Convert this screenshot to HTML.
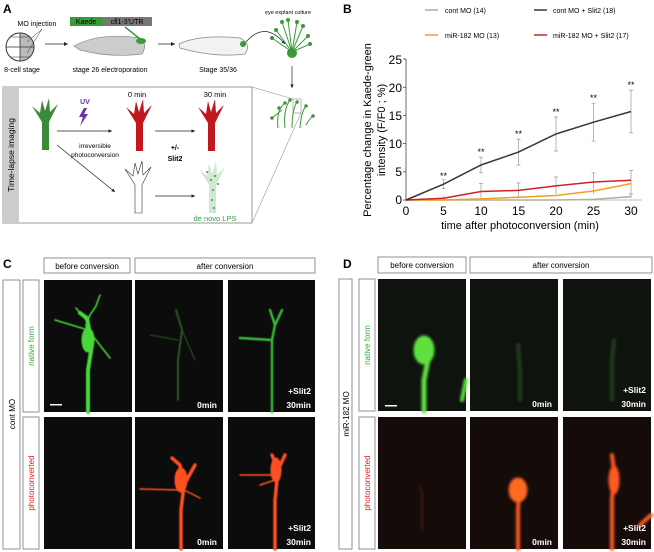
<!DOCTYPE html>
<html><head><meta charset="utf-8"><style>
body{margin:0;background:#fff;width:654px;height:552px;overflow:hidden}
svg{display:block;font-family:"Liberation Sans",Arial,sans-serif}
</style></head><body>
<svg width="654" height="552" viewBox="0 0 654 552" xmlns="http://www.w3.org/2000/svg">
<defs>
<filter id="b1"><feGaussianBlur stdDeviation="1.2"/></filter>
<filter id="b2"><feGaussianBlur stdDeviation="0.6"/></filter>
<marker id="ar" markerWidth="6" markerHeight="6" refX="5" refY="3" orient="auto"><path d="M0,0.5 L5,3 L0,5.5 Z" fill="#222"/></marker>
<path id="cone" d="M-3,50 L-3,22 L-13,6 L-5,13 L-3,0 L0,11 L4,-2 L5,12 L13,4 L4,22 L4,50 Z"/>
</defs>

<!-- Panel A -->
<text x="3" y="13" font-size="12" font-weight="bold">A</text>
<text x="37" y="26" font-size="7" text-anchor="middle">MO injection</text>
<circle cx="20" cy="47" r="14" fill="#fff" stroke="#333" stroke-width="1"/>
<path d="M20,33 A14,14 0 0 1 20,61 Z" fill="#bbb" stroke="#333" stroke-width="0.8"/>
<line x1="6" y1="47" x2="34" y2="47" stroke="#333" stroke-width="0.8"/>
<line x1="10" y1="37" x2="30" y2="37" stroke="#333" stroke-width="0.6"/>
<line x1="10" y1="57" x2="30" y2="57" stroke="#333" stroke-width="0.6"/>
<line x1="42" y1="29" x2="27" y2="42" stroke="#333" stroke-width="0.5"/>
<line x1="42" y1="29" x2="27" y2="53" stroke="#333" stroke-width="0.5"/>
<text x="22" y="72" font-size="7" text-anchor="middle">8-cell stage</text>
<line x1="45" y1="44" x2="68" y2="44" stroke="#222" stroke-width="0.8" marker-end="url(#ar)"/>
<rect x="70" y="17" width="33" height="9" fill="#3a9a3a"/>
<rect x="103" y="17" width="49" height="9" fill="#777"/>
<text x="86" y="24" font-size="7" text-anchor="middle">Kaede</text>
<text x="127" y="24" font-size="7" text-anchor="middle">cfl1-3'UTR</text>
<path d="M74,46 Q100,32 140,38 Q148,44 142,54 Q110,58 80,50 Z" fill="#ccc" stroke="#888" stroke-width="0.7"/>
<line x1="125" y1="27" x2="140" y2="39" stroke="#3a9a3a" stroke-width="1.5"/>
<ellipse cx="141" cy="41" rx="5" ry="3" fill="#3a9a3a"/>
<text x="110" y="72" font-size="7" text-anchor="middle">stage 26 electroporation</text>
<line x1="158" y1="44" x2="175" y2="44" stroke="#222" stroke-width="0.8" marker-end="url(#ar)"/>
<path d="M179,44 Q200,34 240,38 Q252,44 245,54 Q215,58 180,48 Z" fill="#f2f2f2" stroke="#888" stroke-width="0.7"/>
<circle cx="243" cy="44" r="3" fill="#3a9a3a"/>
<path d="M246,42 Q265,20 285,44" fill="none" stroke="#222" stroke-width="0.7" marker-end="url(#ar)"/>
<text x="218" y="72" font-size="7" text-anchor="middle">Stage 35/36</text>
<text x="288" y="14" font-size="5.5" text-anchor="middle">eye explant culture</text>
<g stroke="#3a9a3a" stroke-width="1" fill="none">
<path d="M292,52 L282,22 M292,52 L288,20 M292,52 L297,22 M292,52 L303,26 M292,52 L308,36 M292,52 L276,30 M292,52 L272,38 M292,52 L310,44"/>
</g>
<g fill="#3a9a3a"><circle cx="292" cy="53" r="5"/><circle cx="282" cy="22" r="2"/><circle cx="288" cy="20" r="2"/><circle cx="297" cy="22" r="2"/><circle cx="303" cy="26" r="2"/><circle cx="308" cy="36" r="2"/><circle cx="276" cy="30" r="2"/><circle cx="272" cy="38" r="2"/><circle cx="310" cy="44" r="2"/></g>
<line x1="292" y1="66" x2="292" y2="88" stroke="#222" stroke-width="0.7" marker-end="url(#ar)"/>
<g stroke="#3a9a3a" stroke-width="1" fill="none">
<path d="M278,128 Q276,110 285,103 M285,128 Q283,110 290,100 M292,128 Q292,110 297,102 M300,128 Q301,112 306,106 M306,125 Q310,118 313,116 M272,118 L282,110"/>
</g>
<g fill="#3a9a3a"><circle cx="285" cy="103" r="1.8"/><circle cx="290" cy="100" r="1.8"/><circle cx="297" cy="102" r="1.8"/><circle cx="306" cy="106" r="1.8"/><circle cx="313" cy="116" r="1.8"/><circle cx="272" cy="118" r="1.8"/><circle cx="279" cy="108" r="1.8"/></g>
<rect x="293" y="99" width="8" height="14" fill="none" stroke="#888" stroke-width="0.6"/>
<line x1="252" y1="87" x2="293" y2="99" stroke="#999" stroke-width="0.6"/>
<line x1="252" y1="223" x2="301" y2="113" stroke="#999" stroke-width="0.6"/>
<rect x="3" y="87" width="249" height="136" fill="#fff" stroke="#999" stroke-width="1"/>
<rect x="3" y="87" width="16" height="136" fill="#ccc"/>
<text transform="translate(14,155) rotate(-90)" font-size="8.5" text-anchor="middle">Time-lapse imaging</text>
<use href="#cone" transform="translate(45,100)" fill="#3a8a3a"/>
<text x="85" y="104" font-size="7" font-weight="bold" fill="#6a2fa0" text-anchor="middle">UV</text>
<path d="M84,108 L79,117 L83,117 L80,126 L88,114 L84,114 L87,108 Z" fill="#6a2fa0"/>
<line x1="57" y1="131" x2="112" y2="131" stroke="#222" stroke-width="0.7" marker-end="url(#ar)"/>
<text x="95" y="148" font-size="6.5" text-anchor="middle">irreversible</text>
<text x="95" y="157" font-size="6.5" text-anchor="middle">photoconversion</text>
<line x1="57" y1="145" x2="115" y2="192" stroke="#222" stroke-width="0.7" marker-end="url(#ar)"/>
<text x="137" y="97" font-size="7.5" text-anchor="middle">0 min</text>
<use href="#cone" transform="translate(139,101)" fill="#c0181e"/>
<line x1="155" y1="131" x2="195" y2="131" stroke="#222" stroke-width="0.7" marker-end="url(#ar)"/>
<text x="175" y="150" font-size="7" font-weight="bold" text-anchor="middle">+/-</text>
<text x="175" y="161" font-size="7" font-weight="bold" text-anchor="middle">Slit2</text>
<text x="215" y="97" font-size="7.5" text-anchor="middle">30 min</text>
<use href="#cone" transform="translate(211,101)" fill="#c0181e"/>
<use href="#cone" transform="translate(138,163)" fill="#fff" stroke="#333" stroke-width="0.6"/>
<line x1="155" y1="196" x2="195" y2="196" stroke="#222" stroke-width="0.7" marker-end="url(#ar)"/>
<use href="#cone" transform="translate(212,163)" fill="#cfe8cf"/>
<g fill="#3a9a3a"><circle cx="211" cy="180" r="1"/><circle cx="215" cy="176" r="1"/><circle cx="213" cy="190" r="1"/><circle cx="212" cy="200" r="1"/><circle cx="214" cy="208" r="1"/><circle cx="207" cy="172" r="1"/><circle cx="218" cy="184" r="1"/></g>
<text x="215" y="221" font-size="7.5" fill="#3a9a3a" text-anchor="middle">de novo LPS</text>

<!-- Panel B -->
<text x="343" y="13" font-size="12" font-weight="bold">B</text>
<line x1="425" y1="10" x2="438" y2="10" stroke="#b5ae98" stroke-width="1.5"/>
<text x="445" y="13" font-size="7">cont MO (14)</text>
<line x1="534" y1="10" x2="547" y2="10" stroke="#3a3530" stroke-width="1.5"/>
<text x="553" y="13" font-size="7">cont MO + Slit2 (18)</text>
<line x1="425" y1="35" x2="438" y2="35" stroke="#f0a020" stroke-width="1.5"/>
<text x="445" y="38" font-size="7">miR-182 MO (13)</text>
<line x1="534" y1="35" x2="547" y2="35" stroke="#d0202a" stroke-width="1.5"/>
<text x="553" y="38" font-size="7">miR-182 MO + Slit2 (17)</text>
<g stroke="#444" stroke-width="0.8">
<line x1="406" y1="59" x2="406" y2="200"/>
<line x1="406" y1="200" x2="642" y2="200" stroke="#aaa"/>
<line x1="403" y1="59" x2="406" y2="59"/><line x1="403" y1="87.2" x2="406" y2="87.2"/><line x1="403" y1="115.4" x2="406" y2="115.4"/><line x1="403" y1="143.6" x2="406" y2="143.6"/><line x1="403" y1="171.8" x2="406" y2="171.8"/><line x1="403" y1="200" x2="406" y2="200"/>
</g>
<g font-size="12" text-anchor="end">
<text x="402" y="64">25</text><text x="402" y="92">20</text><text x="402" y="120">15</text><text x="402" y="148">10</text><text x="402" y="176">5</text><text x="402" y="204">0</text>
</g>
<g font-size="12" text-anchor="middle">
<text x="406" y="215">0</text><text x="443.5" y="215">5</text><text x="481" y="215">10</text><text x="518.5" y="215">15</text><text x="556" y="215">20</text><text x="593.5" y="215">25</text><text x="631" y="215">30</text>
</g>
<text x="520" y="229" font-size="11" text-anchor="middle">time after photoconversion (min)</text>
<text transform="translate(371,130) rotate(-90)" font-size="11" text-anchor="middle">Percentage change in Kaede-green</text>
<text transform="translate(385,130) rotate(-90)" font-size="11" text-anchor="middle">intensity  (F/F0 ; %)</text>
<g stroke="#999" stroke-width="0.7">
<path d="M443.5,179.7V188.7M441.5,179.7h4M441.5,188.7h4"/>
<path d="M481,157.1V172.9M479,157.1h4M479,172.9h4"/>
<path d="M518.5,139.1V165.1M516.5,139.1h4M516.5,165.1h4"/>
<path d="M556,117V151M554,117h4M554,151h4"/>
<path d="M593.5,103.2V141.2M591.5,103.2h4M591.5,141.2h4"/>
<path d="M631,90.1V132.9M629,90.1h4M629,132.9h4"/>
<path d="M443.5,196V200M481,183.5V199M518.5,183V198M556,177V194M593.5,173V194M631,170.5V198"/>
<path d="M479,183.5h4M516.5,183h4M554,177h4M591.5,173h4M629,170.5h4M629,194h4"/>
</g>
<polyline points="406,200 443.5,200 481,200 518.5,200 556,200 593.5,199.4 631,196.6" fill="none" stroke="#b5ae98" stroke-width="1.5"/>
<polyline points="406,200 443.5,200 481,198.9 518.5,197.2 556,195.5 593.5,191 631,183.6" fill="none" stroke="#f0a020" stroke-width="1.5"/>
<polyline points="406,200 443.5,198.3 481,191.5 518.5,190.4 556,185.9 593.5,182 631,180.3" fill="none" stroke="#d0202a" stroke-width="1.5"/>
<polyline points="406,200 443.5,184.2 481,165 518.5,152.1 556,134 593.5,122.2 631,111.5" fill="none" stroke="#3a3530" stroke-width="1.5"/>
<g font-size="9" text-anchor="middle">
<text x="443.5" y="179">**</text><text x="481" y="155">**</text><text x="518.5" y="137">**</text><text x="556" y="115">**</text><text x="593.5" y="101">**</text><text x="631" y="88">**</text>
</g>

<!-- Panel C -->
<text x="3" y="268" font-size="12" font-weight="bold">C</text>
<g fill="#fff" stroke="#777" stroke-width="0.8">
<rect x="44" y="258" width="86" height="15"/><rect x="135" y="258" width="180" height="15"/>
<rect x="3" y="280" width="17" height="269"/>
<rect x="23" y="280" width="16" height="132"/><rect x="23" y="417" width="16" height="132"/>
</g>
<g font-size="8" text-anchor="middle">
<text x="87" y="269">before conversion</text><text x="225" y="269">after conversion</text>
<text transform="translate(15,414) rotate(-90)">cont MO</text>
</g>
<text transform="translate(34,346) rotate(-90)" font-size="8" fill="#3aaa3a" text-anchor="middle">native form</text>
<text transform="translate(34,483) rotate(-90)" font-size="8" fill="#d02020" text-anchor="middle">photoconverted</text>
<g fill="#0b0c0b">
<rect x="44" y="280" width="88" height="132"/><rect x="135" y="280" width="88" height="132"/><rect x="228" y="280" width="87" height="132"/>
<rect x="44" y="417" width="88" height="132"/><rect x="135" y="417" width="88" height="132"/><rect x="228" y="417" width="87" height="132"/>
</g>
<g fill="none" stroke-linecap="round" filter="url(#b2)">
<g stroke="#4ad83a"><path d="M88,412 L88,370 L92,345 L87,318 L80,313" stroke-width="4"/><path d="M88,345 L86,325 L90,315 L96,306 L100,295 M86,320 L76,308 M88,330 L55,320 M92,335 L110,358" stroke-width="1.5"/><ellipse cx="88" cy="340" rx="6" ry="12" fill="#4ad83a"/></g>
<g stroke="#2a5a22" stroke-width="2"><path d="M178,400 L178,360 L182,330 L176,310"/><path d="M178,340 L150,335 M182,330 L195,360" stroke-width="1"/></g>
<g stroke="#3ab83a" stroke-width="2.5"><path d="M272,412 L272,340 L275,325 L270,310 M275,325 L282,310 M272,340 L240,338"/></g>
<g stroke="#ff5020"><path d="M181,549 L181,510 L184,485 L180,465 L172,458 M184,485 L195,465" stroke-width="3.5"/><path d="M180,490 L140,489 M184,490 L200,498" stroke-width="1.5"/><ellipse cx="181" cy="480" rx="6" ry="12" fill="#ff5020"/></g>
<g stroke="#ff5020"><path d="M275,549 L275,500 L278,470 L272,455 M278,470 L285,455" stroke-width="3.5"/><path d="M275,475 L240,475 M275,480 L260,485" stroke-width="1.5"/><ellipse cx="276" cy="470" rx="5" ry="12" fill="#ff5020"/></g>
</g>
<rect x="50" y="404" width="12" height="1.5" fill="#fff"/>
<g fill="#fff" font-size="8.5" font-weight="bold" text-anchor="end">
<text x="217" y="408">0min</text><text x="311" y="394">+Slit2</text><text x="311" y="408">30min</text>
<text x="217" y="545">0min</text><text x="311" y="531">+Slit2</text><text x="311" y="545">30min</text>
</g>

<!-- Panel D -->
<text x="343" y="268" font-size="12" font-weight="bold">D</text>
<g fill="#fff" stroke="#777" stroke-width="0.8">
<rect x="378" y="257" width="88" height="16"/><rect x="470" y="257" width="182" height="16"/>
<rect x="339" y="279" width="13" height="270"/>
<rect x="359" y="279" width="16" height="132"/><rect x="359" y="417" width="16" height="132"/>
</g>
<g font-size="8" text-anchor="middle">
<text x="422" y="268">before conversion</text><text x="561" y="268">after conversion</text>
<text transform="translate(349,414) rotate(-90)">miR-182 MO</text>
</g>
<text transform="translate(370,345) rotate(-90)" font-size="8" fill="#3aaa3a" text-anchor="middle">native form</text>
<text transform="translate(370,483) rotate(-90)" font-size="8" fill="#d02020" text-anchor="middle">photoconverted</text>
<g fill="#0e130d">
<rect x="378" y="279" width="88" height="132"/><rect x="470" y="279" width="88" height="132"/><rect x="563" y="279" width="88" height="132"/>
</g>
<g fill="#150b08">
<rect x="378" y="417" width="88" height="132"/><rect x="470" y="417" width="88" height="132"/><rect x="563" y="417" width="88" height="132"/>
</g>
<g fill="none" stroke-linecap="round" filter="url(#b1)">
<g stroke="#5ee040"><path d="M424,411 L424,380 L428,360 L420,340" stroke-width="5"/><ellipse cx="424" cy="350" rx="10" ry="14" fill="#5ee040"/><path d="M466,380 L462,400" stroke-width="4"/></g>
<g stroke="#243a1c" stroke-width="4"><path d="M520,400 L520,370 L518,345"/><path d="M612,400 L612,360 L614,340"/></g>
<g stroke="#3a1a14" stroke-width="2"><path d="M422,530 L422,495 L420,485"/></g>
<g stroke="#ff5a20"><path d="M518,549 L518,510 L520,480" stroke-width="4"/><ellipse cx="518" cy="490" rx="9" ry="12" fill="#ff6a20"/></g>
<g stroke="#ff5a20"><path d="M612,549 L612,500 L614,470 L612,455" stroke-width="4"/><ellipse cx="614" cy="480" rx="5" ry="14" fill="#ff5a20"/><path d="M651,515 L640,525" stroke-width="4"/></g>
</g>
<rect x="385" y="405" width="12" height="1.5" fill="#fff"/>
<g fill="#fff" font-size="8.5" font-weight="bold" text-anchor="end">
<text x="552" y="407">0min</text><text x="646" y="393">+Slit2</text><text x="646" y="407">30min</text>
<text x="552" y="545">0min</text><text x="646" y="531">+Slit2</text><text x="646" y="545">30min</text>
</g>
</svg>
</body></html>
